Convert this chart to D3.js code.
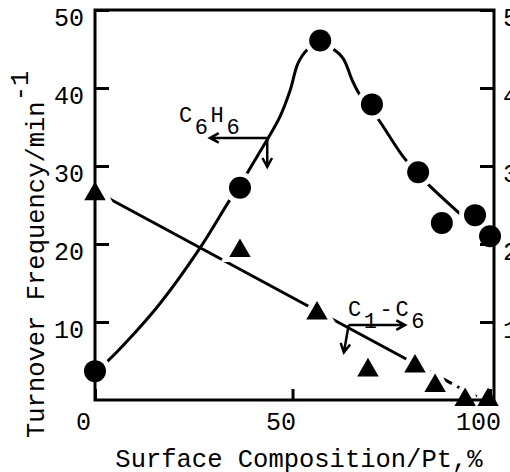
<!DOCTYPE html>
<html>
<head>
<meta charset="utf-8">
<script src="https://cdn.jsdelivr.net/npm/d3@7"></script>
<style>
body { margin: 0; background: #fff; }
text { font-family: "Courier New", "Liberation Mono", monospace; fill: #000; }
</style>
</head>
<body>
<svg id="chart" width="510" height="472"></svg>
<script>
// benzene (C6H6) turnover frequency - circles
var benzeneX = [0, 36.7, 57, 70.1, 81.8, 87.8, 96.2, 100];
var benzeneY = [3.7, 27.2, 46.1, 37.9, 29.2, 22.7, 23.7, 21.0];

// hand drawn guide curve through the benzene points
var benzeneCurveX = [0, 3, 15.7, 26.6, 33.7, 36.7, 41, 46.8, 49.4, 51.4, 53.7, 57, 60.3, 62.8, 65.1, 66.6, 70.1, 71.4, 78, 81.8, 84, 96.2, 100];
var benzeneCurveY = [3.7, 4.9, 11.9, 19.5, 25.3, 27.6, 31.2, 36.3, 39.7, 43.2, 44.9, 45.8, 45, 43.8, 41.0, 39.5, 36.9, 36.2, 31.2, 29.0, 27.8, 22.2, 20.8];

// C1-C6 (hydrogenolysis) turnover frequency - triangles
var crackX = [0, 36.7, 56.2, 69.1, 81, 86.1, 93.7, 99.5];
var crackY = [26.8, 19.5, 11.5, 4.2, 4.7, 2.2, 0.4, 0.4];

// straight fit line, solid then dashed
var crackLineX = [0, 81];
var crackLineY = [26.8, 4.65];
var crackDashX = [81, 98];
var crackDashY = [4.65, 0];

var yTicks = [10, 20, 30, 40, 50];
var xTicks = [0, 50, 100];

var svg = d3.select("#chart");

var x = d3.scaleLinear().domain([0, 101]).range([95, 494]);
var y = d3.scaleLinear().domain([0, 50]).range([400, 10]);

var smooth = d3.line()
    .x(d => x(d[0])).y(d => y(d[1]))
    .curve(d3.curveCatmullRom.alpha(0.5));
var straight = d3.line()
    .x(d => x(d[0])).y(d => y(d[1]));

// lines
svg.append("path")
    .datum(d3.zip(benzeneCurveX, benzeneCurveY))
    .attr("d", smooth)
    .attr("fill", "none").attr("stroke", "#000").attr("stroke-width", 3);

svg.append("path")
    .datum(d3.zip(crackLineX, crackLineY))
    .attr("d", straight)
    .attr("fill", "none").attr("stroke", "#000").attr("stroke-width", 3);

svg.append("path")
    .datum(d3.zip(crackDashX, crackDashY))
    .attr("d", straight)
    .attr("fill", "none").attr("stroke", "#000").attr("stroke-width", 3)
    .attr("stroke-dasharray", "10,6");

var tri = d3.symbol().type(d3.symbolTriangle).size(200);

// white halos cut the lines around the markers
svg.append("g").selectAll("circle")
    .data(d3.zip(benzeneX, benzeneY))
    .enter().append("circle")
    .attr("cx", d => x(d[0])).attr("cy", d => y(d[1]))
    .attr("r", 16).attr("fill", "#fff");

svg.append("g").selectAll("path")
    .data(d3.zip(crackX, crackY))
    .enter().append("path")
    .attr("d", tri)
    .attr("transform", d => "translate(" + x(d[0]) + "," + (y(d[1]) + 3) + ")")
    .attr("fill", "#fff").attr("stroke", "#fff").attr("stroke-width", 10);

// frame
svg.append("rect")
    .attr("x", x.range()[0]).attr("y", y.range()[1])
    .attr("width", x.range()[1] - x.range()[0])
    .attr("height", y.range()[0] - y.range()[1])
    .attr("fill", "none").attr("stroke", "#000").attr("stroke-width", 3);

function styleAxis(g) {
    g.select(".domain").remove();
    g.selectAll(".tick line").attr("stroke", "#000").attr("stroke-width", 3);
    g.selectAll(".tick text").attr("font-family", null).attr("font-size", null)
        .style("font-size", "25px");
}

// left axis
svg.append("g")
    .attr("transform", "translate(" + x.range()[0] + ",0)")
    .call(d3.axisLeft(y).tickValues(yTicks).tickSize(-14).tickPadding(11))
    .call(styleAxis)
    .call(g => g.selectAll(".tick text").attr("y", 7));

// right axis (labels run off the edge)
svg.append("g")
    .attr("transform", "translate(" + x.range()[1] + ",0)")
    .call(d3.axisRight(y).tickValues(yTicks).tickSize(-14).tickPadding(9))
    .call(styleAxis)
    .call(g => g.selectAll(".tick text").attr("y", 7));

// bottom axis
svg.append("g")
    .attr("transform", "translate(0," + y.range()[0] + ")")
    .call(d3.axisBottom(x).tickValues(xTicks).tickSize(-11))
    .call(styleAxis)
    .call(g => g.selectAll(".tick text").attr("x", -12).attr("y", 30).attr("dy", null));

// markers
svg.append("g").selectAll("circle")
    .data(d3.zip(benzeneX, benzeneY))
    .enter().append("circle")
    .attr("cx", d => x(d[0])).attr("cy", d => y(d[1]))
    .attr("r", 11).attr("fill", "#000");

svg.append("g").selectAll("path")
    .data(d3.zip(crackX, crackY))
    .enter().append("path")
    .attr("d", tri)
    .attr("transform", d => "translate(" + x(d[0]) + "," + (y(d[1]) + 3) + ")")
    .attr("fill", "#000");

// arrows
function arrow(x0, y0, x1, y1) {
    var px0 = x(x0), py0 = y(y0), px1 = x(x1), py1 = y(y1);
    var a = Math.atan2(py1 - py0, px1 - px0), h = 10, w = 0.5;
    var p = d3.path();
    p.moveTo(px0, py0); p.lineTo(px1, py1);
    p.moveTo(px1 - h * Math.cos(a - w), py1 - h * Math.sin(a - w));
    p.lineTo(px1, py1);
    p.lineTo(px1 - h * Math.cos(a + w), py1 - h * Math.sin(a + w));
    svg.append("path").attr("d", p.toString())
        .attr("fill", "none").attr("stroke", "#000").attr("stroke-width", 2.5);
}
arrow(43.6, 33.6, 29.1, 33.6);
arrow(43.6, 33.6, 43.6, 29.9);
arrow(64.2, 9.6, 78.5, 9.6);
arrow(64.2, 9.6, 63.0, 6.1);

// formula labels: each part placed on a fixed pitch
function formula(x0, yb, parts) {
    var t = svg.append("text").style("font-size", "22px");
    parts.forEach(function(p, i) {
        t.append("tspan")
            .attr("x", x0 + i * 15.8)
            .attr("y", yb + (p.sub ? 12 : 0))
            .text(p.t);
    });
}
formula(179, 122, [{t: "C"}, {t: "6", sub: true}, {t: "H"}, {t: "6", sub: true}]);
formula(348, 316, [{t: "C"}, {t: "1", sub: true}, {t: "-"}, {t: "C"}, {t: "6", sub: true}]);

// axis titles
svg.append("text")
    .attr("x", 299).attr("y", 467)
    .attr("text-anchor", "middle")
    .style("font-size", "25.5px")
    .text("Surface Composition/Pt,%");

var yt = svg.append("text")
    .attr("transform", "translate(44,438) rotate(-90)")
    .style("font-size", "25.5px")
    .text("Turnover Frequency/min");
yt.append("tspan").attr("dy", -16).text("-1");
</script>
</body>
</html>
